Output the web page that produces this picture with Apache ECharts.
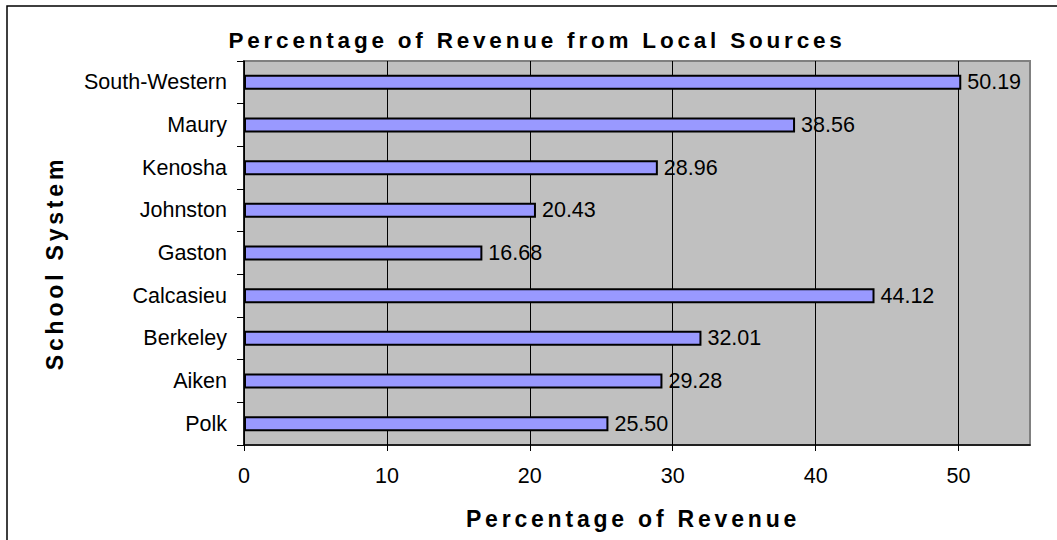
<!DOCTYPE html>
<html>
<head>
<meta charset="utf-8">
<title>Percentage of Revenue from Local Sources</title>
<script src="https://cdn.jsdelivr.net/npm/echarts@6/dist/echarts.min.js"></script>
<style>
  html, body { margin: 0; padding: 0; background: #fff; }
  #chart { width: 1057px; height: 540px; }
  /* bold titles are set with wide tracking */
  #chart text[style*="bold"], #chart text[font-weight="bold"] { letter-spacing: 3.8px; }
</style>
</head>
<body>
<div id="chart"></div>
<script>
// School systems, listed top to bottom
const schools = ['South-Western', 'Maury', 'Kenosha', 'Johnston', 'Gaston',
                 'Calcasieu', 'Berkeley', 'Aiken', 'Polk'];
// Share of revenue from local sources (%)
const localShare = [50.19, 38.56, 28.96, 20.43, 16.68, 44.12, 32.01, 29.28, 25.50];
// Value-axis ticks
const xTicks = [0, 10, 20, 30, 40, 50];
const xMax = 55;

const FONT = '"Liberation Sans", Arial, Helvetica, sans-serif';

const chart = echarts.init(document.getElementById('chart'), null, { renderer: 'svg' });

chart.setOption({
  animation: false,
  backgroundColor: '#ffffff',
  graphic: [{
    type: 'rect',
    silent: true,
    shape: { x: 7, y: 6, width: 1200, height: 700 },
    style: { fill: 'none', stroke: '#000000', lineWidth: 1.5 }
  }],
  title: {
    text: 'Percentage of Revenue from Local Sources',
    left: 537,
    top: 29,
    padding: 0,
    textAlign: 'center',
    textStyle: { fontFamily: FONT, fontWeight: 'bold', fontSize: 22.5, color: '#000' }
  },
  grid: {
    left: 244, right: 27, top: 61, bottom: 95,
    show: true,
    backgroundColor: '#C0C0C0',
    borderColor: '#808080',
    borderWidth: 2
  },
  xAxis: {
    type: 'value',
    min: 0,
    max: xMax,
    interval: 10,
    name: 'Percentage of Revenue',
    nameLocation: 'middle',
    nameGap: 62,
    nameTextStyle: { fontFamily: FONT, fontWeight: 'bold', fontSize: 23, color: '#000', padding: [0, 8, 0, 0] },
    axisLine: { show: true, lineStyle: { color: '#000', width: 1.5 } },
    axisTick: { show: true, length: 6, lineStyle: { color: '#000', width: 1 }, customValues: xTicks },
    axisLabel: { fontFamily: FONT, fontSize: 21.5, color: '#000', margin: 20, customValues: xTicks },
    splitLine: { show: true, lineStyle: { color: '#000', width: 1 } }
  },
  yAxis: {
    type: 'category',
    data: schools,
    inverse: true,
    name: 'School System',
    nameLocation: 'middle',
    nameGap: 178,
    nameTextStyle: { fontFamily: FONT, fontWeight: 'bold', fontSize: 23, color: '#000', padding: [0, 20, 0, 0] },
    axisLine: { show: true, lineStyle: { color: '#000', width: 1.5 } },
    axisTick: { show: true, length: 7, alignWithLabel: false, lineStyle: { color: '#000', width: 1 } },
    axisLabel: { fontFamily: FONT, fontSize: 21.5, color: '#000', margin: 17 },
    splitLine: { show: false }
  },
  series: [{
    type: 'bar',
    data: localShare,
    barWidth: 15,
    itemStyle: { color: '#9999FF', borderColor: '#000', borderWidth: 2 },
    label: {
      show: true,
      position: 'right',
      distance: 6,
      fontFamily: FONT,
      fontSize: 21.5,
      color: '#000',
      formatter: p => p.value.toFixed(2)
    }
  }]
});
</script>
</body>
</html>
